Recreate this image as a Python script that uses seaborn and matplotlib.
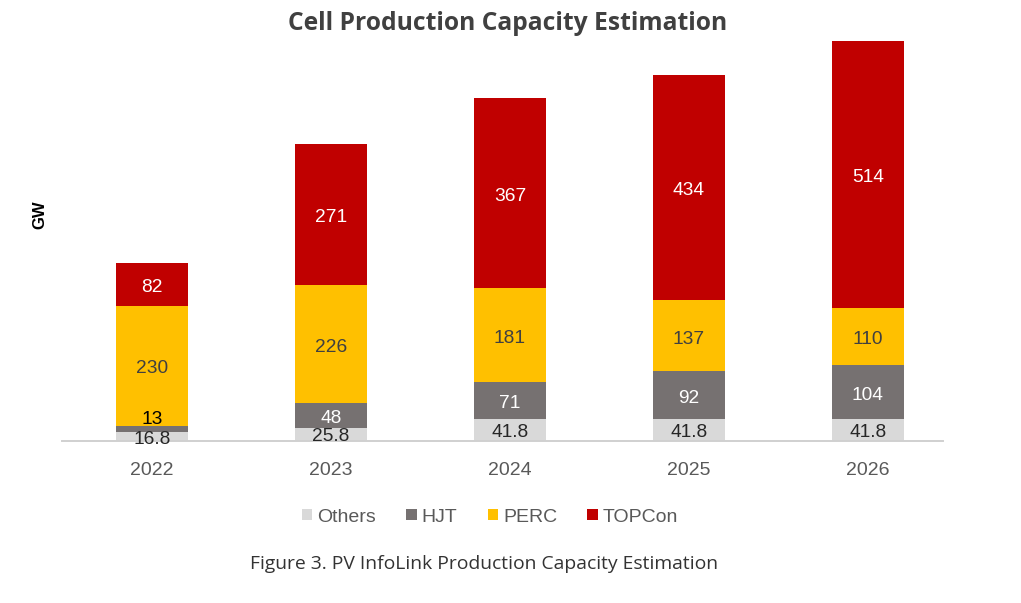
import numpy as np
import seaborn as sns
import matplotlib.pyplot as plt
from matplotlib.patches import Patch

# chart data
years = ["2022", "2023", "2024", "2025", "2026"]
others = [16.8, 25.8, 41.8, 41.8, 41.8]
hjt = [13, 48, 71, 92, 104]
perc = [230, 226, 181, 137, 110]
topcon = [82, 271, 367, 434, 514]

series_names = ["Others", "HJT", "PERC", "TOPCon"]
series_vals = [others, hjt, perc, topcon]
colors = ["#d9d9d9", "#767171", "#ffc000", "#c00000"]
text_colors = ["#262626", "white", "#404040", "white"]

sns.set_style("white")
plt.rcParams["font.family"] = ["Liberation Sans", "DejaVu Sans"]

fig = plt.figure(figsize=(10.21, 6.03), dpi=100)
ax = fig.add_axes([62 / 1021, 1 - 441 / 603, (943 - 62) / 1021, 400 / 603])

bottom = np.zeros(len(years))
for name, vals, col, tcol in zip(series_names, series_vals, colors, text_colors):
    vals = np.array(vals, dtype=float)
    sns.barplot(x=years, y=vals, bottom=bottom, color=col, width=0.4,
                saturation=1, ax=ax, linewidth=0)
    for i, v in enumerate(vals):
        label = f"{v:g}"
        if v < 15:
            # small segment: put label just above, dark text
            ax.text(i, bottom[i] + v + 12, label, ha="center", va="center",
                    fontsize=13.8, color="black")
        else:
            off = 5 if name == "Others" else 6
            ax.text(i, bottom[i] + v / 2 - off, label,
                    ha="center", va="center", fontsize=13.8, color=tcol)
    bottom += vals

ax.set_ylim(0, 770)
ax.set_xlim(-0.503, 4.42)
sns.despine(ax=ax, left=True)
ax.spines["bottom"].set_color("#d0d0d0")
ax.spines["bottom"].set_linewidth(1.4)
ax.set_yticks([])
ax.tick_params(axis="x", length=0, pad=15, labelsize=14, labelcolor="#595959")
ax.set_xlabel("")
ax.set_ylabel("")

fig.text(40 / 1021, 1 - 215 / 603, "GW", rotation=90, ha="center", va="center",
         fontsize=12, fontweight="bold", color="black")

fig.text(508 / 1021, 1 - 23 / 603, "Cell Production Capacity Estimation",
         ha="center", va="center", fontsize=17.7, fontweight="bold",
         color="#404040", family=["Open Sans", "DejaVu Sans"])

handles = [Patch(facecolor=c, edgecolor="none") for c in colors]
fig.legend(handles, series_names, loc="center", ncol=4,
           bbox_to_anchor=(490 / 1021, 1 - 517 / 603), frameon=False,
           fontsize=14, labelcolor="#595959", handlelength=0.55,
           handleheight=0.55, handletextpad=0.25, columnspacing=1.55)

fig.text(484 / 1021, 1 - 564 / 603,
         "Figure 3. PV InfoLink Production Capacity Estimation",
         ha="center", va="center", fontsize=13.9, color="#333333",
         family=["Open Sans", "DejaVu Sans"])

fig.savefig("out.png", dpi=100, facecolor="white")
